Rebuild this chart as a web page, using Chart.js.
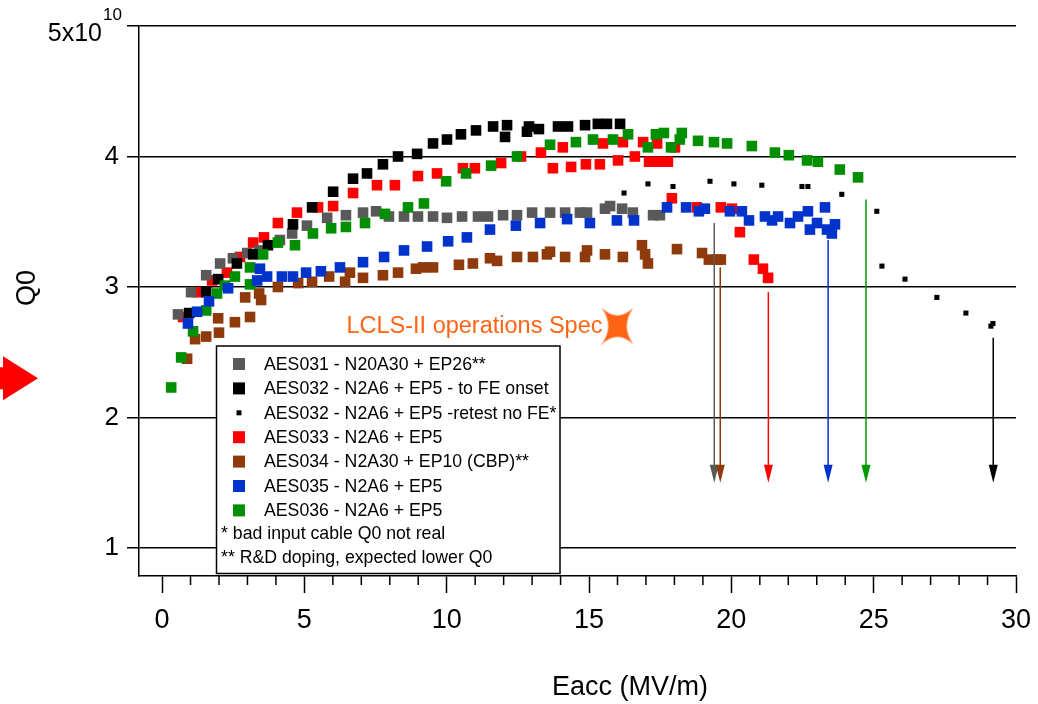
<!DOCTYPE html>
<html><head><meta charset="utf-8">
<script src="https://cdn.jsdelivr.net/npm/chart.js@4.4.1/dist/chart.umd.min.js"></script>
<style>html,body{margin:0;padding:0;background:#fff;}canvas{display:block;}</style>
</head><body>
<canvas id="c" width="1038" height="704"></canvas>
<script>
// ---------- data ----------
const seriesLabels = [
  'AES031 - N20A30 + EP26**',
  'AES032 - N2A6 + EP5 - to FE onset',
  'AES032 - N2A6 + EP5 -retest no FE*',
  'AES033 - N2A6 + EP5',
  'AES034 - N2A30 + EP10 (CBP)**',
  'AES035 - N2A6 + EP5',
  'AES036 - N2A6 + EP5'
];
const footnotes = ['* bad input cable Q0 not real', '** R&D doping, expected lower Q0'];
const xTickValues = [0, 5, 10, 15, 20, 25, 30];
const xMinorValues = [0,1,2,3,4,5,6,7,8,9,10,11,12,13,14,15,16,17,18,19,20,21,22,23,24,25,26,27,28,29,30];
const yTickValues = [1, 2, 3, 4, 5];

// Eacc (MV/m), Q0 (x1e10)
const aes031 = [[0.56,2.79],[1.02,2.96],[1.55,3.09],[2.04,3.18],[2.49,3.22],[2.99,3.26],[3.41,3.28],[4.14,3.36],[4.57,3.41],[5.09,3.47],[5.80,3.53],[6.46,3.55],[7.06,3.57],[7.52,3.58],[7.97,3.54],[8.50,3.54],[8.99,3.54],[9.52,3.54],[10.01,3.53],[10.54,3.54],[11.10,3.54],[11.45,3.54],[11.98,3.55],[12.47,3.55],[13.00,3.57],[13.63,3.57],[14.16,3.57],[14.68,3.57],[14.93,3.57],[15.56,3.60],[15.74,3.62],[16.16,3.60],[16.54,3.57],[17.25,3.55],[17.49,3.55]];
const aes032 = [[0.95,2.80],[1.55,2.96],[1.97,3.06],[2.63,3.18],[3.20,3.25],[3.72,3.32],[4.60,3.48],[5.27,3.61],[6.01,3.73],[6.71,3.83],[7.20,3.87],[7.76,3.94],[8.29,4.00],[8.96,4.02],[9.52,4.10],[10.01,4.13],[10.50,4.17],[11.03,4.20],[11.63,4.23],[12.05,4.15],[12.12,4.24],[12.82,4.19],[12.89,4.23],[13.24,4.21],[13.91,4.23],[14.26,4.23],[14.86,4.24],[15.31,4.25],[15.63,4.25],[16.09,4.25]];
const aes032retest = [[16.23,3.72],[17.07,3.79],[17.95,3.77],[19.25,3.81],[20.09,3.79],[21.07,3.78],[22.48,3.77],[22.69,3.77],[23.88,3.71],[25.11,3.58],[25.29,3.16],[26.10,3.06],[27.22,2.92],[28.24,2.80],[29.12,2.70],[29.19,2.72]];
const aes033 = [[0.74,2.77],[1.26,2.96],[1.76,3.05],[2.28,3.11],[2.74,3.23],[3.20,3.34],[3.58,3.38],[4.07,3.49],[4.74,3.57],[5.48,3.61],[6.01,3.62],[6.71,3.72],[7.55,3.78],[8.18,3.78],[8.99,3.85],[9.66,3.87],[10.57,3.91],[10.99,3.91],[11.91,3.95],[12.61,4.00],[13.31,4.03],[13.73,3.91],[14.08,4.07],[14.37,3.92],[14.89,3.94],[15.38,3.94],[15.49,4.10],[16.02,3.97],[16.19,4.11],[16.61,4.00],[16.90,4.11],[17.11,3.96],[17.39,4.10],[17.42,3.96],[17.77,3.96],[18.02,4.07],[17.91,3.68],[18.79,3.61],[19.63,3.61],[20.02,3.60],[20.30,3.42],[20.79,3.21],[21.11,3.14],[21.29,3.07]];
const aes034 = [[0.88,2.45],[1.16,2.60],[1.55,2.62],[2.00,2.65],[1.97,2.76],[2.56,2.73],[3.09,2.77],[2.92,2.92],[3.41,2.95],[3.48,2.90],[4.07,3.00],[4.78,3.03],[5.27,3.04],[5.87,3.08],[6.43,3.04],[6.60,3.11],[7.06,3.07],[7.76,3.09],[8.29,3.11],[8.92,3.14],[9.17,3.15],[9.52,3.15],[10.43,3.17],[10.92,3.18],[11.52,3.22],[11.77,3.20],[12.47,3.23],[13.03,3.23],[13.52,3.25],[13.63,3.27],[14.16,3.23],[14.86,3.23],[14.93,3.28],[15.56,3.25],[16.19,3.23],[16.86,3.32],[16.97,3.25],[17.07,3.18],[18.09,3.29],[18.97,3.26],[19.21,3.21],[19.50,3.21],[19.63,3.21]];
const aes035 = [[0.91,2.72],[1.23,2.81],[1.65,2.89],[2.32,2.99],[3.34,3.05],[3.44,3.14],[3.69,3.08],[4.21,3.08],[4.60,3.08],[5.06,3.11],[5.58,3.12],[6.25,3.15],[7.06,3.19],[7.80,3.23],[8.50,3.28],[9.31,3.31],[10.05,3.35],[10.71,3.38],[11.52,3.44],[12.43,3.47],[13.28,3.49],[14.23,3.52],[15.03,3.49],[15.98,3.51],[16.58,3.51],[17.74,3.61],[18.41,3.61],[18.86,3.58],[19.07,3.60],[19.95,3.58],[20.37,3.58],[20.62,3.51],[21.18,3.54],[21.43,3.51],[21.64,3.54],[22.06,3.49],[22.34,3.54],[22.69,3.58],[22.76,3.44],[23.01,3.49],[23.29,3.61],[23.36,3.44],[23.53,3.41],[23.64,3.48]];
const aes036 = [[0.32,2.23],[0.67,2.46],[1.09,2.66],[1.55,2.82],[1.93,2.95],[2.21,3.01],[2.56,3.08],[3.09,3.02],[3.09,3.15],[3.55,3.25],[4.07,3.34],[4.67,3.32],[5.30,3.41],[5.94,3.45],[6.46,3.46],[7.13,3.49],[7.83,3.56],[8.64,3.61],[9.20,3.64],[9.98,3.81],[10.68,3.87],[11.56,3.93],[12.47,4.00],[13.63,4.09],[14.54,4.11],[15.14,4.13],[15.84,4.13],[16.37,4.17],[17.07,4.07],[17.35,4.17],[17.63,4.18],[17.88,4.07],[18.19,4.13],[18.26,4.18],[18.83,4.12],[19.39,4.11],[19.85,4.10],[20.72,4.08],[21.53,4.03],[22.02,4.01],[22.66,3.97],[23.04,3.96],[23.81,3.90],[24.45,3.84]];

const specPoint = [[16.0, 2.70]];
const specLabel = 'LCLS-II operations Spec';

// quench arrows: Eacc position, start Q0, end Q0 (tip)
const arrowE   = [19.40, 19.61, 21.30, 23.40, 24.73, 29.20];
const arrowTop = [3.49, 3.15, 2.96, 3.36, 3.67, 2.61];
const arrowTip = 1.50;
const markerQ0 = 2.30; // red marker on the left edge

// ---------- styles ----------
const FONT = "'Liberation Sans', Arial, Helvetica, sans-serif";
const C = {gray:'#595959', black:'#000000', red:'#ff0000', brown:'#8f3a0b', blue:'#0033cc', green:'#008f00', orange:'#ff6414'};
const seriesColors = [C.gray, C.black, C.black, C.red, C.brown, C.blue, C.green];
const arrowColors = [C.gray, C.brown, C.red, C.blue, '#009a00', C.black];

function makeStar(w, h, color) {
  const c = document.createElement('canvas');
  c.width = w; c.height = h;
  const g = c.getContext('2d');
  g.fillStyle = color;
  const k = 0.42;
  g.beginPath();
  g.moveTo(0, 0);
  g.quadraticCurveTo(w / 2, h * k, w, 0);
  g.quadraticCurveTo(w * (1 - k), h / 2, w, h);
  g.quadraticCurveTo(w / 2, h * (1 - k), 0, h);
  g.quadraticCurveTo(w * k, h / 2, 0, 0);
  g.closePath();
  g.fill();
  return c;
}
const starImg = makeStar(32, 37, C.orange);

function ds(label, pts, color, r, order) {
  return {
    label, data: pts.map(p => ({x: p[0], y: p[1]})),
    pointStyle: 'rect', pointRadius: r, pointHoverRadius: r,
    backgroundColor: color, borderColor: color, borderWidth: 0,
    showLine: false, order
  };
}

const datasets = [
  ds(seriesLabels[0], aes031, seriesColors[0], 7.5, 4),
  ds(seriesLabels[1], aes032, seriesColors[1], 7.5, 3),
  ds(seriesLabels[2], aes032retest, seriesColors[2], 3.6, 0),
  ds(seriesLabels[3], aes033, seriesColors[3], 7.5, 6),
  ds(seriesLabels[4], aes034, seriesColors[4], 7.5, 5),
  ds(seriesLabels[5], aes035, seriesColors[5], 7.5, 1),
  ds(seriesLabels[6], aes036, seriesColors[6], 7.5, 2),
  {label: specLabel, data: specPoint.map(p => ({x: p[0], y: p[1]})), pointStyle: starImg,
   pointRadius: 10, backgroundColor: C.orange, borderWidth: 0, showLine: false, order: 0}
];

const deco = {
  id: 'deco',
  afterDatasetsDraw(chart) {
    const ctx = chart.ctx, xs = chart.scales.x, ys = chart.scales.y, ca = chart.chartArea;
    ctx.save();
    // minor x ticks
    ctx.strokeStyle = '#000'; ctx.lineWidth = 1.5;
    xMinorValues.forEach(v => {
      if (v % 5 === 0) return;
      const px = xs.getPixelForValue(v);
      ctx.beginPath(); ctx.moveTo(px, ca.bottom); ctx.lineTo(px, ca.bottom + 9); ctx.stroke();
    });
    // quench arrows
    arrowE.forEach((e, i) => {
      const px = xs.getPixelForValue(e);
      const y0 = ys.getPixelForValue(arrowTop[i]);
      const y1 = ys.getPixelForValue(arrowTip);
      ctx.strokeStyle = arrowColors[i]; ctx.fillStyle = arrowColors[i]; ctx.lineWidth = 1.5;
      ctx.beginPath(); ctx.moveTo(px, y0); ctx.lineTo(px, y1 - 6); ctx.stroke();
      ctx.beginPath(); ctx.moveTo(px - 4.5, y1 - 18); ctx.lineTo(px + 4.5, y1 - 18); ctx.lineTo(px, y1); ctx.closePath(); ctx.fill();
    });
    // spec label
    const sx = xs.getPixelForValue(specPoint[0][0]), sy = ys.getPixelForValue(specPoint[0][1]);
    ctx.fillStyle = C.orange; ctx.font = '23.5px ' + FONT; ctx.textAlign = 'right'; ctx.textBaseline = 'middle';
    ctx.fillText(specLabel, sx - 15, sy);
    // legend box
    const L = 216.5, T = 346, R = 560, B = 573.5;
    ctx.fillStyle = '#fff'; ctx.fillRect(L, T, R - L, B - T);
    ctx.strokeStyle = '#000'; ctx.lineWidth = 1.5; ctx.strokeRect(L, T, R - L, B - T);
    ctx.font = '17.7px ' + FONT; ctx.textAlign = 'left'; ctx.textBaseline = 'middle';
    seriesLabels.forEach((lab, i) => {
      const cy = 364 + i * 24.4;
      const s = i === 2 ? 5 : 12;
      ctx.fillStyle = seriesColors[i];
      ctx.fillRect(239 - s / 2, cy - s / 2, s, s);
      ctx.fillStyle = '#000';
      ctx.fillText(lab, 264, cy + 1);
    });
    footnotes.forEach((f, i) => { ctx.fillStyle = '#000'; ctx.fillText(f, 221, 534 + i * 24.4); });
    ctx.restore();
  },
  afterDraw(chart) {
    const ctx = chart.ctx, ys = chart.scales.y;
    ctx.save();
    ctx.fillStyle = '#000';
    // top y label 5x10^10
    const y5 = ys.getPixelForValue(5);
    ctx.font = '25px ' + FONT; ctx.textAlign = 'right'; ctx.textBaseline = 'alphabetic';
    ctx.fillText('5x10', 102, y5 + 15);
    ctx.font = '17px ' + FONT; ctx.textAlign = 'left';
    ctx.fillText('10', 103, y5 - 6);
    // axis titles
    ctx.font = '27px ' + FONT; ctx.textAlign = 'center'; ctx.textBaseline = 'middle';
    ctx.fillText('Eacc (MV/m)', 630, 688);
    ctx.save(); ctx.translate(28, 288); ctx.rotate(-Math.PI / 2); ctx.fillText('Q0', 0, 0); ctx.restore();
    // red marker arrow on the left edge
    const my = ys.getPixelForValue(markerQ0);
    ctx.fillStyle = '#ff0000';
    ctx.beginPath();
    ctx.moveTo(0, my - 11); ctx.lineTo(3, my - 11); ctx.lineTo(3, my - 22); ctx.lineTo(38, my);
    ctx.lineTo(3, my + 22); ctx.lineTo(3, my + 11); ctx.lineTo(0, my + 11); ctx.closePath(); ctx.fill();
    ctx.restore();
  }
};

new Chart(document.getElementById('c'), {
  type: 'scatter',
  data: {datasets},
  options: {
    responsive: false, animation: false, events: [],
    layout: {padding: {left: 0, right: 22, top: 26, bottom: 0}},
    plugins: {legend: {display: false}, tooltip: {enabled: false}},
    scales: {
      x: {
        type: 'linear', min: -0.81, max: 30,
        afterBuildTicks: s => { s.ticks = xTickValues.map(v => ({value: v})); },
        afterFit: s => { s.height = 128; s.paddingLeft = 0; s.paddingRight = 0; },
        grid: {drawOnChartArea: false, drawTicks: true, tickLength: 17, tickColor: '#000', tickWidth: 1.5},
        border: {display: true, color: '#000', width: 1.5},
        ticks: {font: {family: FONT, size: 27}, color: '#000', padding: 11, maxRotation: 0, autoSkip: false}
      },
      y: {
        type: 'linear', min: 0.785, max: 5,
        afterBuildTicks: s => { s.ticks = yTickValues.map(v => ({value: v})); },
        afterFit: s => { s.width = 139; s.paddingTop = 0; s.paddingBottom = 0; },
        grid: {color: '#000', lineWidth: 1.5, drawTicks: true, tickLength: 12, tickColor: '#000', tickWidth: 1.5},
        border: {display: true, color: '#000', width: 1.5},
        ticks: {font: {family: FONT, size: 26}, color: '#000', padding: 8, callback: v => v === 5 ? '' : String(v)}
      }
    }
  },
  plugins: [deco]
});
</script>
</body></html>
